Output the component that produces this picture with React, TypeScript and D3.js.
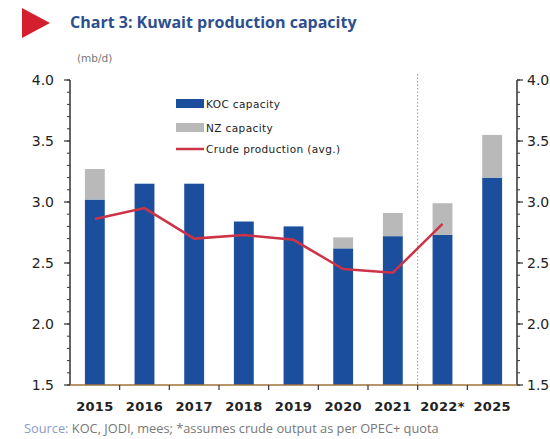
import React from 'react';
import * as d3 from 'd3';

const years = ['2015', '2016', '2017', '2018', '2019', '2020', '2021', '2022*', '2025'];
const kocCapacity = [3.02, 3.15, 3.15, 2.84, 2.8, 2.62, 2.72, 2.73, 3.2];
const nzCapacity = [0.25, 0, 0, 0, 0, 0.09, 0.19, 0.26, 0.35];
const crudeYears = ['2015', '2016', '2017', '2018', '2019', '2020', '2021', '2022*'];
const crudeProduction = [2.86, 2.95, 2.7, 2.73, 2.69, 2.45, 2.42, 2.82];
const yTicks = [1.5, 2.0, 2.5, 3.0, 3.5, 4.0];

const W = 550, H = 439;
const left = 70, right = 517, top = 80, bottom = 385;
const font = 'Verdana, "DejaVu Sans", sans-serif';

const App: React.FC = () => {
  const x = d3.scaleBand<string>().domain(years).range([left, right]).paddingInner(0.6).paddingOuter(0.3);
  const y = d3.scaleLinear().domain([1.5, 4.0]).range([bottom, top]);
  const step = x.step();
  const edge = (i: number) => (x(years[i]) as number) - (step - x.bandwidth()) / 2;
  const minor = d3.range(15, 41).map(v => v / 10);

  const line = d3.line<number>()
    .x((_, i) => (x(crudeYears[i]) as number) + x.bandwidth() / 2)
    .y(d => y(d));

  const divider = (x('2021') as number) + x.bandwidth() + (step - x.bandwidth()) / 2;

  return (
    <svg width={W} height={H} style={{ position: 'absolute', left: 0, top: 0, background: '#fff' }}>
      <polygon points="22,8 50,23 22,38" fill="#d4202e" />
      <text x={70} y={28} fontFamily='"Open Sans", sans-serif' fontWeight={700} fontSize={16} fill="#2d4f8e">
        Chart 3: Kuwait production capacity
      </text>
      <text x={77} y={62} fontFamily={font} fontSize={10.5} fill="#777">(mb/d)</text>

      {years.map((yr, i) => (
        <g key={yr}>
          <rect x={x(yr)} y={y(kocCapacity[i])} width={x.bandwidth()} height={y(1.5) - y(kocCapacity[i])} fill="#1b4f9e" />
          {nzCapacity[i] > 0 && (
            <rect x={x(yr)} y={y(kocCapacity[i] + nzCapacity[i])} width={x.bandwidth()}
              height={y(kocCapacity[i]) - y(kocCapacity[i] + nzCapacity[i])} fill="#b9b9b9" />
          )}
        </g>
      ))}

      <line x1={divider} x2={divider} y1={74} y2={bottom} stroke="#999" strokeDasharray="1.5,2" strokeWidth={1} />

      <path d={line(crudeProduction) || ''} fill="none" stroke="#cc3347" strokeWidth={2.5} />

      {/* left axis */}
      <line x1={left} x2={left} y1={top} y2={bottom} stroke="#333" strokeWidth={1.5} />
      {minor.map(v => (
        <line key={'lm' + v} x1={left - 3} x2={left} y1={y(v)} y2={y(v)} stroke="#333" strokeWidth={1} />
      ))}
      {yTicks.map(v => (
        <g key={'l' + v}>
          <line x1={left - 6} x2={left} y1={y(v)} y2={y(v)} stroke="#333" strokeWidth={1.2} />
          <text x={54} y={y(v) + 5} textAnchor="end" fontFamily={font} fontSize={14} fill="#222">{v.toFixed(1)}</text>
        </g>
      ))}

      {/* right axis */}
      <line x1={right} x2={right} y1={top} y2={bottom} stroke="#333" strokeWidth={1.5} />
      {minor.map(v => (
        <line key={'rm' + v} x1={right} x2={right + 3} y1={y(v)} y2={y(v)} stroke="#333" strokeWidth={1} />
      ))}
      {yTicks.map(v => (
        <g key={'r' + v}>
          <line x1={right} x2={right + 6} y1={y(v)} y2={y(v)} stroke="#333" strokeWidth={1.2} />
          <text x={527} y={y(v) + 5} fontFamily={font} fontSize={14} fill="#222">{v.toFixed(1)}</text>
        </g>
      ))}

      {/* bottom axis */}
      <line x1={left} x2={right} y1={bottom} y2={bottom} stroke="#a0703a" strokeWidth={1.5} />
      {years.map((yr, i) => (
        <g key={'b' + yr}>
          {i > 0 && <line x1={edge(i)} x2={edge(i)} y1={bottom} y2={bottom + 5} stroke="#333" strokeWidth={1.2} />}
          <text x={(x(yr) as number) + x.bandwidth() / 2} y={411} textAnchor="middle" fontFamily={font}
            fontWeight={600} fontSize={13} letterSpacing={0.3} fill="#222">{yr}</text>
        </g>
      ))}

      {/* legend */}
      <rect x={176} y={99} width={28} height={9} fill="#1b4f9e" />
      <text x={206} y={108} fontFamily={font} fontSize={10.5} letterSpacing={0.4} fill="#222">KOC capacity</text>
      <rect x={176} y={123} width={28} height={9} fill="#b9b9b9" />
      <text x={206} y={132} fontFamily={font} fontSize={10.5} letterSpacing={0.4} fill="#222">NZ capacity</text>
      <line x1={176} x2={204} y1={149} y2={149} stroke="#cc3347" strokeWidth={2.5} />
      <text x={206} y={153} fontFamily={font} fontSize={10.5} letterSpacing={0.4} fill="#222">Crude production (avg.)</text>

      <text x={24} y={433} fontFamily='"Open Sans", sans-serif' fontSize={12.8} fill="#777">
        <tspan fill="#8a9ac8">Source: </tspan>KOC, JODI, mees; *assumes crude output as per OPEC+ quota
      </text>
    </svg>
  );
};

export default App;
